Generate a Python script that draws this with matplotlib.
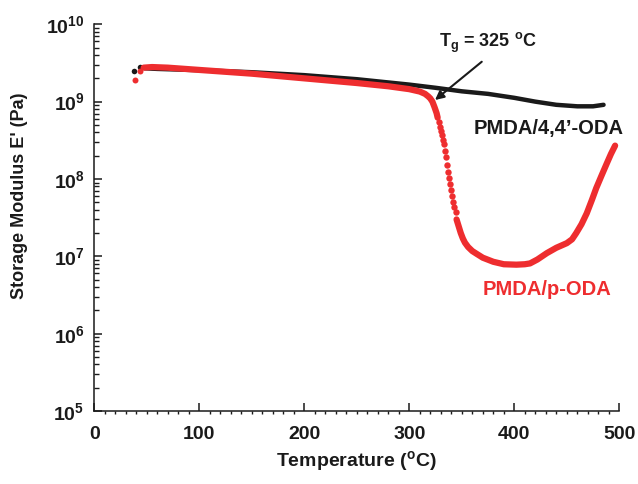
import matplotlib
matplotlib.use('Agg')
import matplotlib.pyplot as plt
import numpy as np
from matplotlib.ticker import MultipleLocator, LogLocator, NullFormatter

plt.rcParams['font.family'] = ['Liberation Sans', 'DejaVu Sans']
plt.rcParams['font.weight'] = 'bold'
plt.rcParams['axes.labelweight'] = 'bold'
plt.rcParams['mathtext.fontset'] = 'custom'
plt.rcParams['mathtext.rm'] = 'Liberation Sans:bold'
plt.rcParams['mathtext.it'] = 'Liberation Sans:bold'
plt.rcParams['mathtext.bf'] = 'Liberation Sans:bold'
plt.rcParams['mathtext.default'] = 'rm'

# PMDA/4,4'-ODA storage modulus (Pa) vs temperature (C)
oda44_T = [38, 44, 48, 60, 100, 150, 200, 250, 300, 325, 350, 375, 400, 420, 440, 460, 475, 485]
oda44_E = [2.5e9, 2.8e9, 2.7e9, 2.65e9, 2.55e9, 2.4e9, 2.2e9, 1.95e9, 1.66e9, 1.51e9,
           1.36e9, 1.26e9, 1.12e9, 1.0e9, 9.1e8, 8.7e8, 8.7e8, 9.1e8]

# PMDA/p-ODA
poda_T = [39, 44, 47, 55, 70, 100, 150, 200, 250, 280, 300, 310, 315, 318, 320, 322, 324, 326,
          327, 328, 329, 330, 331, 332, 333, 334, 335, 336, 337, 338, 339, 340, 341, 342, 343, 344,
          345, 347, 349, 351, 353, 356, 360, 364, 370, 380, 390, 402, 410, 415, 422, 431, 440, 450,
          455, 459, 464, 469, 474, 478, 483, 488, 492, 496]
poda_E = [1.9e9, 2.5e9, 2.75e9, 2.8e9, 2.75e9, 2.57e9, 2.3e9, 2.0e9, 1.74e9, 1.58e9, 1.45e9,
          1.35e9, 1.26e9, 1.17e9, 1.1e9, 1.0e9, 8.5e8, 7.1e8,
          6.2e8, 5.4e8, 4.7e8, 4.2e8, 3.7e8, 3.2e8, 2.8e8, 2.3e8, 1.9e8, 1.5e8, 1.23e8, 1.02e8,
          8.5e7, 7.1e7, 6.0e7, 5.1e7, 4.4e7, 3.7e7,
          3.0e7, 2.45e7, 2.0e7, 1.7e7, 1.5e7, 1.32e7, 1.17e7, 1.08e7, 9.6e6, 8.5e6, 7.9e6, 7.8e6,
          7.9e6, 8.1e6, 9.1e6, 1.1e7, 1.29e7, 1.48e7, 1.66e7, 2.0e7, 2.6e7, 3.6e7, 5.4e7, 7.6e7,
          1.1e8, 1.58e8, 2.1e8, 2.7e8]

black = '#1a1a1a'
red = '#ee2d2f'

fig = plt.figure(figsize=(6.38, 4.84), dpi=100)
ax = fig.add_axes([0.1478, 0.1508, 0.8229, 0.7990])

bT = np.array(oda44_T)
bE = np.array(oda44_E)
rT = np.array(poda_T)
rE = np.array(poda_E)

# black: first two readings as dots, rest as a line
ax.plot(bT[:2], bE[:2], 'o', color=black, ms=4, mew=0, zorder=2)
ax.plot(bT[2:], bE[2:], '-', color=black, lw=3.2, solid_capstyle='round', zorder=2)

# red: dots at start, line on flat parts, separate dots through the steep drop
ax.plot(rT[:2], rE[:2], 'o', color=red, ms=4.3, mew=0, zorder=3)
m1 = (rT >= 47) & (rT <= 327)
m2 = (rT > 327) & (rT < 345)
m3 = rT >= 345
ax.plot(rT[m1], rE[m1], '-', color=red, lw=4.5, solid_capstyle='round', zorder=3)
ax.plot(rT[m2], rE[m2], 'o', color=red, ms=4.6, mew=0, zorder=3)
ax.plot(rT[m3], rE[m3], '-', color=red, lw=4.5, solid_capstyle='round',
        solid_joinstyle='round', zorder=3)

ax.set_yscale('log')
ax.set_xlim(0, 500)
ax.set_ylim(1e5, 1e10)

ax.xaxis.set_major_locator(MultipleLocator(100))
ax.xaxis.set_minor_locator(MultipleLocator(10))
ax.yaxis.set_major_locator(LogLocator(base=10, numticks=10))
ax.yaxis.set_minor_locator(LogLocator(base=10, subs=range(2, 10), numticks=20))
ax.yaxis.set_minor_formatter(NullFormatter())

ax.tick_params(axis='x', which='major', direction='in', length=5.5, width=1.1, pad=11,
               labelsize=14, colors=black)
ax.tick_params(axis='x', which='minor', direction='out', length=2.5, width=1.0, colors=black)
ax.tick_params(axis='y', which='major', direction='in', length=6, width=1.1, pad=7,
               labelsize=14, colors=black)
ax.tick_params(axis='y', which='minor', direction='in', length=3.5, width=1.0, colors=black)

for s in ['top', 'right']:
    ax.spines[s].set_visible(False)
for s in ['left', 'bottom']:
    ax.spines[s].set_linewidth(1.1)
    ax.spines[s].set_color(black)

ax.set_xlabel('Temperature ($^\\mathrm{o}$C)', fontsize=14, labelpad=4, color=black)
ax.set_ylabel("Storage Modulus E' (Pa)", fontsize=13, color=black)
ax.yaxis.set_label_coords(-0.126, 0.557)

ax.annotate('', xy=(324.5, 1.05e9), xytext=(369, 3.28e9),
            arrowprops=dict(arrowstyle='-|>', color=black, lw=1.5, mutation_scale=13,
                            shrinkA=0, shrinkB=0), zorder=4)
ax.text(374.5, 5.75e9, 'T$_\\mathrm{g}$ = 325 $^\\mathrm{o}$C', fontsize=13,
        ha='center', va='center', color=black)
ax.text(433, 4.45e8, 'PMDA/4,4\u2019-ODA', fontsize=14.5, ha='center', va='center',
        color=black, clip_on=False)
ax.text(431, 3.77e6, 'PMDA/p-ODA', fontsize=14.5, ha='center', va='center', color=red)

fig.savefig('out.png', dpi=100)
